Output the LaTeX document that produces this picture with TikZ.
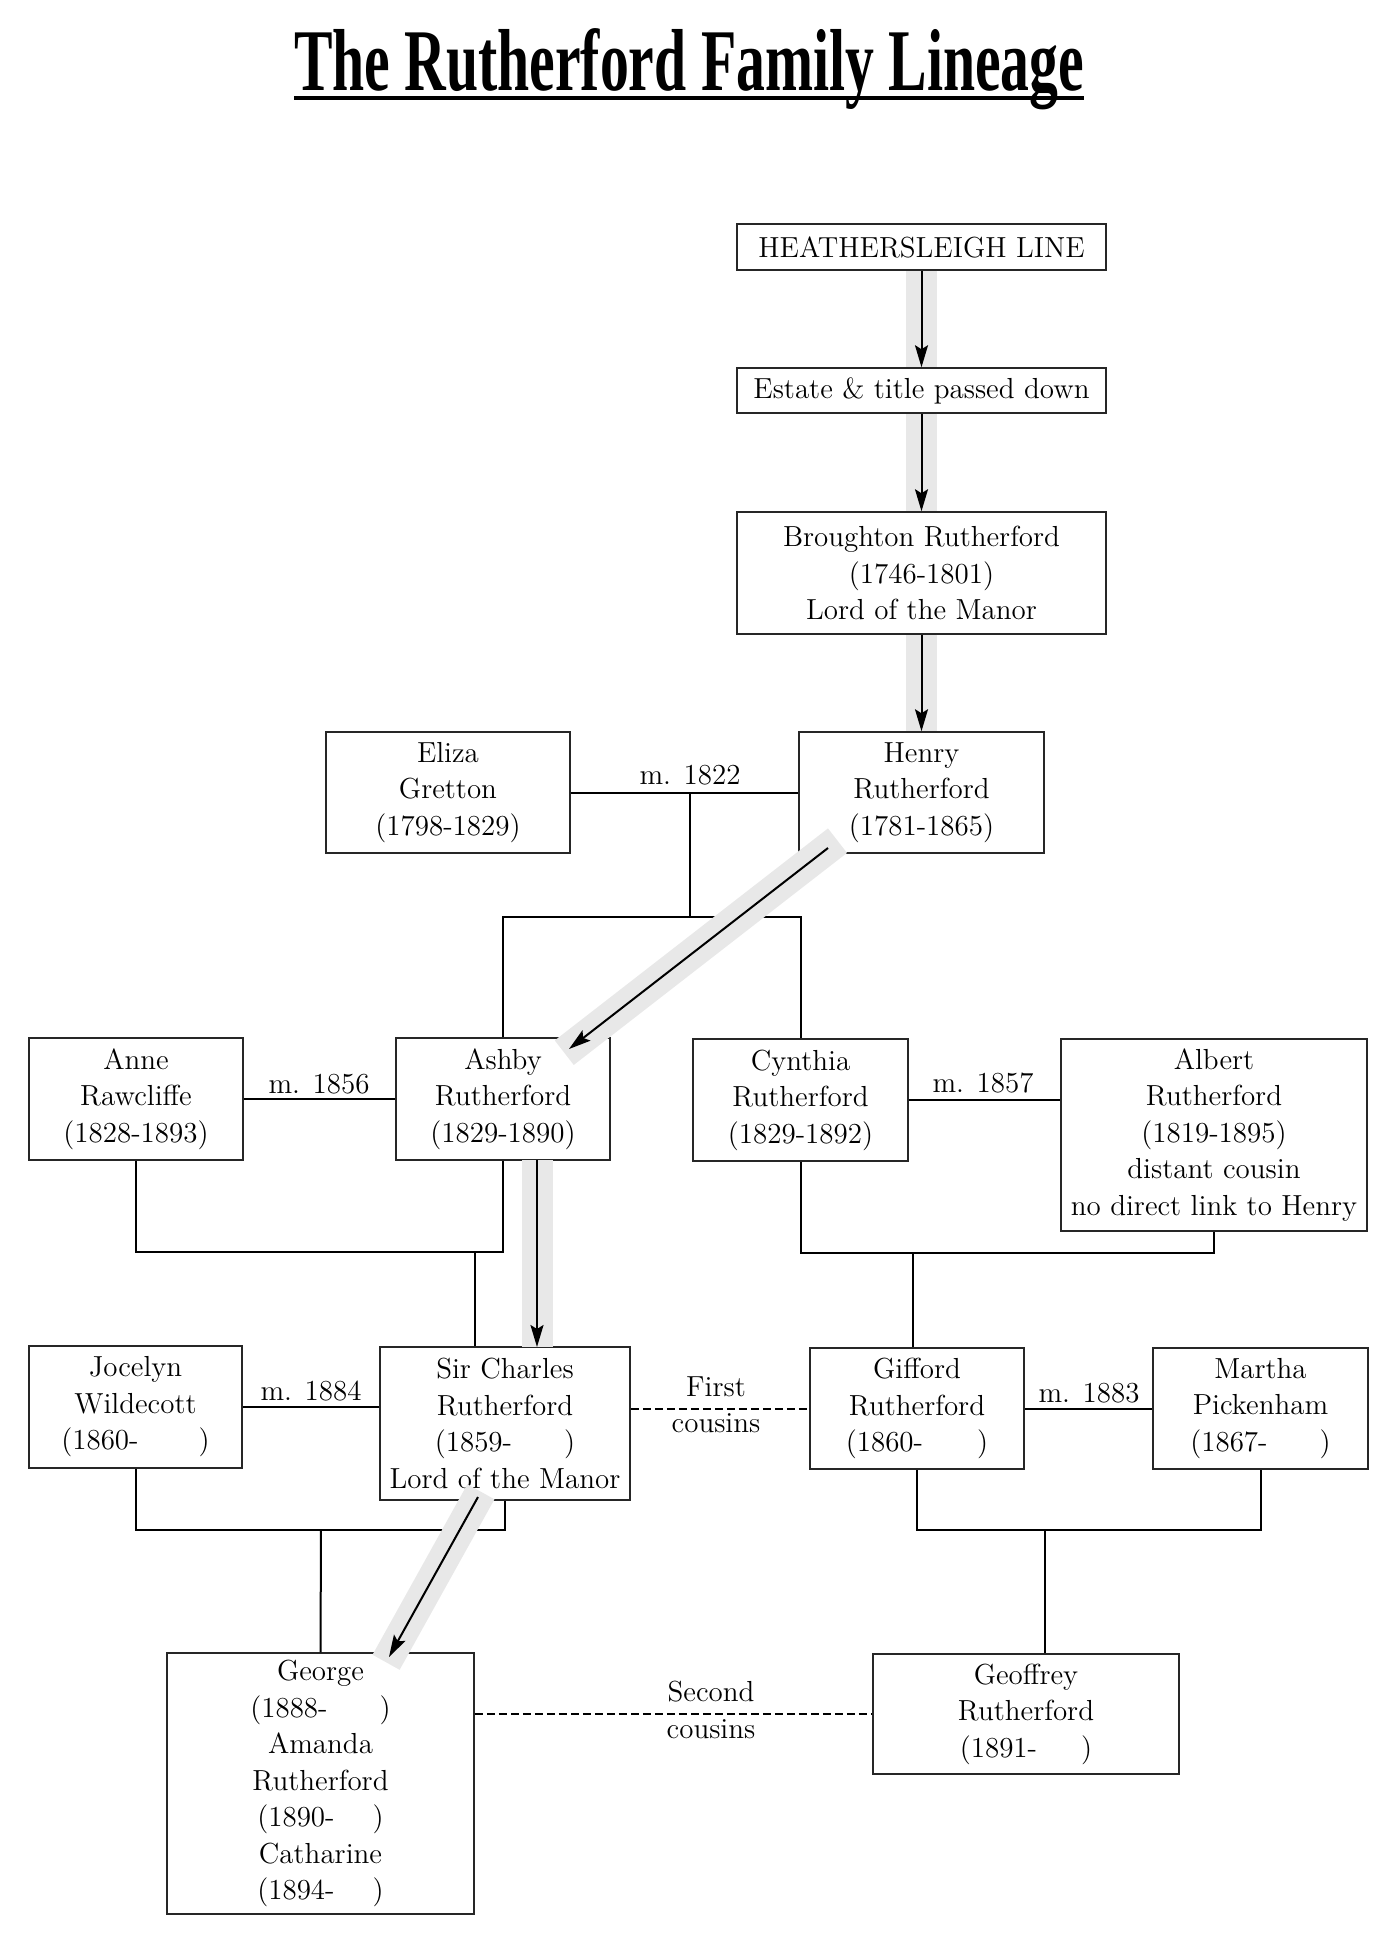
\documentclass[tikz,border=0pt]{standalone}
\usepackage{fontspec}
\usepackage{graphicx}
\newfontfamily\titlefont{Liberation Serif}
\newcommand\famfont{\fontsize{14.5}{18.25}\selectfont}
\usetikzlibrary{arrows.meta,calc}
\begin{document}
\begin{tikzpicture}[x=0.5pt,y=-0.5pt,
  box/.style={draw=black!85, line width=0.75pt, fill=white, align=center, inner sep=0pt, font=\famfont},
  conn/.style={line width=1pt, black},
  band/.style={line width=15.5pt, draw=black!9},
  arr/.style={line width=1pt, black, -{Stealth[length=11pt,width=6.5pt,inset=2pt]}},
  cousinline/.style={line width=1pt, black, dash pattern=on 4pt off 2pt},
  lbl/.style={font=\famfont, inner sep=0pt}
]
\useasboundingbox[fill=white] (0,0) rectangle (1400,1950);

% title
\node[anchor=base, inner sep=0pt] (title) at (689,90)
  {\resizebox{395pt}{\height}{\titlefont\bfseries\fontsize{44}{50}\selectfont The Rutherford Family Lineage}};
\draw[line width=2pt] (294,98) -- (1084,98);

% boxes
\node[box, minimum width=184.5pt, minimum height=23pt]   (heath)   at (921.5,247)   {HEATHERSLEIGH LINE};
\node[box, minimum width=184.5pt, minimum height=22.5pt] (estate)  at (921.5,390.5) {Estate \& title passed down};
\node[box, minimum width=184.5pt, minimum height=61pt]   (brough)  at (921.5,573)   {Broughton Rutherford\\(1746-1801)\\Lord of the Manor};
\node[box, minimum width=122pt, minimum height=60.5pt]   (eliza)   at (448,792.5)   {Eliza\\Gretton\\(1798-1829)};
\node[box, minimum width=122.5pt, minimum height=60.5pt] (henry)   at (921.5,792.5) {Henry\\Rutherford\\(1781-1865)};
\node[box, minimum width=107pt, minimum height=61pt]     (anne)    at (136,1099)    {Anne\\Rawcliffe\\(1828-1893)};
\node[box, minimum width=107pt, minimum height=61pt]     (ashby)   at (503,1099)    {Ashby\\Rutherford\\(1829-1890)};
\node[box, minimum width=107.5pt, minimum height=61pt]   (cynthia) at (800.5,1100)  {Cynthia\\Rutherford\\(1829-1892)};
\node[box, minimum width=153pt, minimum height=96pt]     (albert)  at (1214,1135)   {Albert\\Rutherford\\(1819-1895)\\distant cousin\\no direct link to Henry};
\node[box, minimum width=106.5pt, minimum height=61pt]   (jocelyn) at (135.5,1407)  {Jocelyn\\Wildecott\\(1860-\hspace{30pt})};
\node[box, minimum width=125pt, minimum height=76.5pt]   (charles) at (505,1423.5)  {Sir Charles\\Rutherford\\(1859-\hspace{26pt})\\Lord of the Manor};
\node[box, minimum width=107pt, minimum height=60.5pt]   (gifford) at (917,1408.5)  {Gifford\\Rutherford\\(1860-\hspace{27pt})};
\node[box, minimum width=107.5pt, minimum height=60.5pt] (martha)  at (1260.5,1408.5){Martha\\Pickenham\\(1867-\hspace{26pt})};
\node[box, minimum width=153.5pt, minimum height=130.5pt](george)  at (320.5,1783.5) {George\\(1888-\hspace{26pt})\\Amanda\\Rutherford\\(1890-\hspace{19pt})\\Catharine\\(1894-\hspace{19pt})};
\node[box, minimum width=153pt, minimum height=60pt]     (geoffrey) at (1026,1714)  {Geoffrey\\Rutherford\\(1891-\hspace{22pt})};

% junction coordinates
\coordinate (mA) at (690,792.5);
\coordinate (cA) at (690,917);
\coordinate (cB) at (475,1252);
\coordinate (cC) at (913,1253);
\coordinate (cD) at (321,1530);
\coordinate (cE) at (1045,1530);

% marriages
\draw[conn] (eliza.east) -- (henry.west);
\node[lbl, anchor=base] (m1822) at (690,784) {m. 1822};
\draw[conn] (anne.east) -- (ashby.west);
\node[lbl, anchor=base] (m1856) at (319,1093) {m. 1856};
\draw[conn] (cynthia.east) -- (cynthia.east -| albert.west);
\node[lbl, anchor=base] (m1857) at (983,1092) {m. 1857};
\draw[conn] (jocelyn.east) -- (jocelyn.east -| charles.west);
\node[lbl, anchor=base] (m1884) at (311,1400) {m. 1884};
\draw[conn] (gifford.east) -- (martha.west);
\node[lbl, anchor=base] (m1883) at (1089,1402) {m. 1883};

% descent lines
\draw[conn] (mA) -- (cA);
\draw[conn] (ashby.north) -- (ashby.north |- cA) -- (cynthia.north |- cA) -- (cynthia.north);
\draw[conn] (anne.south) -- (anne.south |- cB) -- (ashby.south |- cB) -- (ashby.south);
\draw[conn] (cB) -- (cB |- charles.north);
\draw[conn] (cynthia.south) -- (cynthia.south |- cC) -- (albert.south |- cC) -- (albert.south);
\draw[conn] (cC) -- (cC |- gifford.north);
\draw[conn] (jocelyn.south) -- (jocelyn.south |- cD) -- (charles.south |- cD) -- (charles.south);
\draw[conn] (cD) -- (george.north);
\draw[conn] (gifford.south) -- (gifford.south |- cE) -- (martha.south |- cE) -- (martha.south);
\draw[conn] (cE) -- (cE |- geoffrey.north);

% cousins
\draw[cousinline] (gifford.west -| charles.east) -- (gifford.west);
\node[lbl, align=center] (first) at (716,1405) {First\\cousins};
\draw[cousinline] (geoffrey.west -| george.east) -- (geoffrey.west);
\node[lbl, align=center] (second) at (711,1710) {Second\\cousins};

% line of succession
\coordinate (hA) at (828,848);
\coordinate (hB) at (569,1049);
\coordinate (aA) at (537,1160);
\coordinate (aB) at (537,1347);
\coordinate (sA) at (478,1497);
\coordinate (sB) at (389,1657);
\draw[band] (heath.south) -- (estate.north);
\draw[band] (estate.south) -- (brough.north);
\draw[band] (brough.south) -- (henry.north);
\draw[band, shorten <=-6pt, shorten >=-3pt] (hA) -- (hB);
\draw[band] (aA) -- (aB);
\draw[band, shorten <=-3pt, shorten >=-3pt] (sA) -- (sB);
\draw[arr] (heath.south) -- (estate.north);
\draw[arr] (estate.south) -- (brough.north);
\draw[arr] (brough.south) -- (henry.north);
\draw[arr] (hA) -- (hB);
\draw[arr] (aA) -- (aB);
\draw[arr] (sA) -- (sB);
\end{tikzpicture}
\end{document}
